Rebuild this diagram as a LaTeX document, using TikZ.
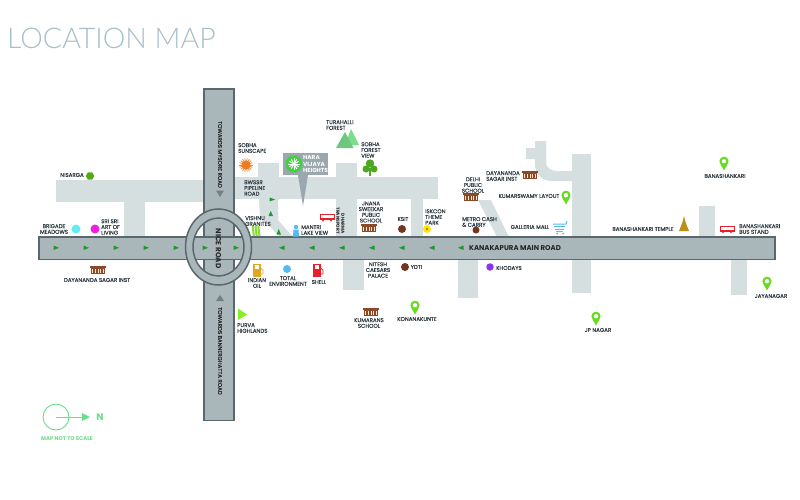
\documentclass[tikz,border=0pt]{standalone}
\usepackage{fontspec}
\setmainfont{Poppins}
\newfontfamily\titlefont{Lato Light}
\newfontfamily\lblfont[FakeBold=0.25]{Poppins}
\usetikzlibrary{shapes.geometric}
\definecolor{roadfill}{HTML}{AAB7BA}
\definecolor{roadedge}{HTML}{5A686D}
\definecolor{lightroad}{HTML}{D6DFE0}
\definecolor{inktext}{HTML}{303C44}
\definecolor{arrowgreen}{HTML}{1C9A2E}
\definecolor{pingreen}{HTML}{66DD22}
\definecolor{schoolbrown}{HTML}{8A4A28}
\definecolor{dotbrown}{HTML}{75351F}
\definecolor{gold}{HTML}{E0A820}
\definecolor{compass}{HTML}{66E088}
\definecolor{busred}{HTML}{E8202C}
\definecolor{calloutgrey}{HTML}{9AA8AE}
\definecolor{titlecol}{HTML}{A8BFC8}
\definecolor{skyblue}{HTML}{55BBF5}
\definecolor{aqua}{HTML}{66EEEE}
\definecolor{pinkdot}{HTML}{EE22DD}
\definecolor{purpledot}{HTML}{8A35EE}
\definecolor{limegreen}{HTML}{88EE22}
\definecolor{leaf}{HTML}{55AA11}
\definecolor{treegreen}{HTML}{4FA620}
\definecolor{hillgreen}{HTML}{7BDC8C}
\definecolor{sunorange}{HTML}{F47A20}
\definecolor{haragreen}{HTML}{3FD13F}
\definecolor{stripegreen}{HTML}{88DD33}
\tikzset{
  x=1pt,y=-1pt,
  lbl/.style={font=\fontsize{5.5}{5.7}\selectfont\lblfont,text=inktext,inner sep=0pt,align=center},
  lblL/.style={lbl,align=left,anchor=west},
  roadtxt/.style={inner sep=0pt,text=black!85,rotate=-90,align=center},
  lroad/.style={fill=lightroad,draw=none},
  dot/.style={circle,inner sep=0pt,minimum size=#1},
  eastmark/.style={fill=arrowgreen,draw=none},
  pics/pinicon/.style={code={
    \fill[pingreen] (0,7.5) .. controls (-1.5,3.5) and (-4.6,2) .. (-4.6,-1.8) arc[start angle=180,end angle=360,radius=4.6] .. controls (4.6,2) and (1.5,3.5) .. (0,7.5) -- cycle;
    \fill[white] (0,-1.8) circle[radius=2.2];
  }},
  pics/schoolicon/.style={code={
    \fill[schoolbrown] (-8,-4) rectangle (8,-2.4);
    \fill[schoolbrown] (-7,-2.4) rectangle (7,4);
    \foreach \i in {-5.2,-2.6,0,2.6,5.2}{\fill[white!80!orange] (\i-0.5,-1.4) rectangle (\i+0.5,2.8);}
  }},
  pics/busicon/.style={code={
    \draw[busred,line width=1pt,fill=white] (-7,-3) rectangle (7,2);
    \fill[busred] (-7,0.6) rectangle (7,2.2);
    \fill[busred] (-4,3.2) circle[radius=1];
    \fill[busred] (4,3.2) circle[radius=1];
  }},
  pics/pumpicon/.style={code={
    \fill[pic actions] (-5,-6.5) rectangle (2.5,6.5);
    \fill[white] (-3.2,-4.8) rectangle (0.8,-1);
    \draw[pic actions,fill=none,line width=0.8pt] (2.5,-2) -- (5,0) -- (5,4) -- (3,4);
  }}
}
\begin{document}
\begin{tikzpicture}
\useasboundingbox (0,0) rectangle (800,500);
\fill[white] (0,0) rectangle (800,500);
% light roads
\fill[lroad] (56,180) rectangle (204,202);
\fill[lroad] (124,202) rectangle (145,237);
\fill[lroad] (234,177) rectangle (438,199);
\fill[lroad] (258,163) rectangle (279,177);
\fill[lroad] (336,163) rectangle (357,177);
\fill[lroad] (336,199) rectangle (357,237);
\fill[lroad] (411,199) rectangle (423,237);
\fill[lroad] (259,199) -- (278,199) -- (278,220) -- (293,237) -- (280,237) -- (260,217) -- cycle;
\fill[lroad] (343,259) rectangle (364,290);
\fill[lroad] (458,259) rectangle (478,298);
\fill[lroad] (478,200) -- (491,200) -- (509,237) -- (497,237) -- cycle;
\fill[lroad] (572,154) rectangle (591,293);
\fill[lroad] (535,141) -- (546,141) -- (546,162) .. controls (546,168) and (551,171) .. (557,171) -- (573,171) -- (573,181) -- (552,181) .. controls (542,181) and (535,174) .. (535,164) -- (535,159) -- (526,159) -- (526,148) -- (535,148) -- cycle;
\fill[lroad] (699,206) rectangle (715,237);
\fill[lroad] (731,259) rectangle (747,295);
% main roads
\draw[fill=roadfill,draw=roadedge,line width=1.8pt] (204,89) rectangle (234,420.5);
\draw[fill=roadfill,draw=roadedge,line width=1.8pt] (39,237) rectangle (775,259.5);
\fill[roadfill] (205,238) rectangle (233,258.5);
% roundabout
\draw[fill=roadfill,draw=roadedge,line width=1.5pt,even odd rule] (218.5,247) ellipse[x radius=33,y radius=38] (218.5,247) ellipse[x radius=25.5,y radius=29];
% road arrows
\foreach \x in {56,86,116,146,176,205,236}{\fill[eastmark] (\x-2.5,245.5) -- (\x+3,247.8) -- (\x-2.5,250) -- cycle;}
\foreach \x in {282,312,342,372,402,432,461}{\fill[eastmark] (\x+2.5,245.5) -- (\x-3,247.8) -- (\x+2.5,250) -- cycle;}
\fill[arrowgreen] (269.5,201.5) -- (269.5,197.5) -- (275,199.5) -- cycle;
\fill[arrowgreen] (270.7,211) -- (273,216) -- (268.5,216) -- cycle;
\fill[arrowgreen] (278.7,229) -- (281,234.5) -- (276.5,234.5) -- cycle;
\fill[roadedge!85] (216,190.5) -- (224,190.5) -- (220,197) -- cycle;
\fill[roadedge!85] (216,301) -- (224,301) -- (220,295) -- cycle;
% road names
\node[roadtxt,font=\fontsize{7.3}{8}\selectfont\bfseries] (nice) at (218.5,248.5) {NICE ROAD};
\node[roadtxt,font=\fontsize{5.5}{6}\selectfont\lblfont] (mysore) at (220,154.5) {TOWARDS MYSORE ROAD};
\node[roadtxt,font=\fontsize{5.5}{6}\selectfont\lblfont] (banner) at (220,351) {TOWARDS BANNERGHATTA ROAD};
\node[inner sep=0pt,text=black!85,font=\fontsize{7}{8}\selectfont\bfseries] (kana) at (515,248.5) {KANAKAPURA MAIN ROAD};
% title
\node[inner sep=0pt,anchor=west,text=titlecol,font=\fontsize{28.5}{30}\selectfont\titlefont] (title) at (7,38) {LOCATION MAP};
% left side
\node[lbl] (nisargaL) at (72,175) {NISARGA};
\node[regular polygon,regular polygon sides=6,fill=leaf,inner sep=0pt,minimum size=8.5pt] (nisarga) at (90,176) {};
\node[lbl] (brigadeL) at (54,229) {BRIGADE\\MEADOWS};
\node[dot=9pt,fill=aqua] (brigade) at (76,229) {};
\node[dot=9pt,fill=pinkdot] (srisri) at (95,229) {};
\node[lblL] (srisriL) at (101,227) {SRI SRI\\ART OF\\LIVING};
\pic at (98,270) {schoolicon};
\node[lbl] (dsiL) at (97,280) {DAYANANDA SAGAR INST};
% top middle
\node[lblL] (sunL) at (238,148) {SOBHA\\SUNSCAPE};
\foreach \a in {0,20,...,340}{\draw[sunorange,line width=0.7pt] (246,165) -- ++(\a:6.8);}
\node[dot=9pt,fill=sunorange] (sun) at (246,165) {};
\node[lblL] (bwL) at (244,188) {BWSSR\\PIPELINE\\ROAD};
\node[lblL] (turL) at (326,125) {TURAHALLI\\FOREST};
\fill[hillgreen] (351,129) -- (359,145) -- (345,145) -- cycle;
\fill[hillgreen!90!black] (345,132) -- (353.5,148) -- (336,148) -- cycle;
\node[lblL] (sfL) at (361,150) {SOBHA\\FOREST\\VIEW};
\fill[treegreen] (368.8,168) rectangle (371.2,176);
\fill[treegreen] (370,163.5) circle[radius=4.2] (366,169) circle[radius=3.5] (374,169) circle[radius=3.5];
% callout
\fill[calloutgrey] (283,153) rectangle (328,175);
\fill[calloutgrey] (298,175) -- (308,175) -- (303,206) -- cycle;
\node[dot=17pt,fill=haragreen] (hara) at (294,164) {};
\foreach \a in {0,30,...,330}{\draw[white,line width=0.9pt] (294,164) -- ++(\a:5.6);}
\node[inner sep=0pt,anchor=west,text=white,align=left,font=\fontsize{5.8}{6.3}\selectfont\bfseries] (haraL) at (303,164) {HARA\\VIJAYA\\HEIGHTS};
% north side of main road
\node[lblL] (visL) at (245,221) {VISHNU\\GRANITES};
\foreach \x in {252.8,255.6,258.4}{\draw[stripegreen,line width=2pt] (\x,226) -- (\x+1,236);}
\fill[skyblue] (296,227) circle[radius=2.2];
\fill[skyblue] (293,236.5) -- (293.5,229.5) -- (298.5,229.5) -- (299,236.5) -- cycle;
\node[lblL] (mantriL) at (301,230) {MANTRI\\LAKE VIEW};
\pic at (327,217.5) {busicon};
\node[inner sep=0pt,rotate=-90,anchor=east,align=right,text=black!85,font=\fontsize{4.4}{5}\selectfont\bfseries] (dharmaL) at (340.5,234) {DHARMA\\TRANSPORT};
\pic at (369,228) {schoolicon};
\node[lbl] (jnanaL) at (371,212) {JNANA\\SWEEKAR\\PUBLIC\\SCHOOL};
\node[lbl] (ksitL) at (403,219) {KSIT};
\node[dot=8pt,fill=dotbrown] (ksit) at (402,229) {};
\node[lblL] (iskL) at (425,217) {ISKCON\\THEME\\PARK};
\node[dot=8pt,fill=yellow!90!orange] (isk) at (427,229) {};
\fill[red!70!black] (427,229) circle[radius=0.9];
\node[lblL] (metroL) at (462,222) {METRO CASH\\\& CARRY};
\node[dot=7pt,fill=dotbrown] (metro) at (476,230) {};
\node[lbl] (delhiL) at (473,185) {DELHI\\PUBLIC\\SCHOOL};
\pic at (471,197) {schoolicon};
\node[lblL] (dsi2L) at (486,176) {DAYANANDA\\SAGAR INST};
\pic at (530,175) {schoolicon};
\node[lbl] (kumL) at (529,196) {KUMARSWAMY LAYOUT};
\pic at (566,197) {pinicon};
\node[lbl] (galL) at (530,227) {GALLERIA MALL};
\draw[skyblue,line width=1pt,line join=round] (553,224) -- (566,224) -- (567,221);
\draw[skyblue,line width=1pt] (554,226.5) -- (565,226.5) (555,229) -- (564,229) (556,231.5) -- (563,231.5);
\fill[skyblue] (557,233.5) circle[radius=1] (563,233.5) circle[radius=1];
\node[lbl] (btL) at (643,229) {BANASHANKARI TEMPLE};
\fill[gold!85!black] (684,216) -- (685.5,222) -- (687,226) -- (689,231) -- (679,231) -- (681,226) -- (682.5,222) -- cycle;
\pic at (727,229) {busicon};
\node[lblL] (bsL) at (739,229) {BANASHANKARI\\BUS STAND};
\pic at (724,163) {pinicon};
\node[lbl] (bkL) at (725,176) {BANASHANKARI};
% south of road
\node[dot=8pt,fill=dotbrown] (ydti) at (405,267) {};
\node[lblL] (ydtiL) at (410.5,267) {YDTI};
\node[dot=7.5pt,fill=purpledot] (khod) at (490,267) {};
\node[lblL] (khodL) at (496,268) {KHODAYS};
\node[lbl] (nitL) at (378,270) {NITESH\\CAESARS\\PALACE};
\pic[gold] at (258,270) {pumpicon};
\node[lbl] (ioL) at (257,283) {INDIAN\\OIL};
\node[dot=8pt,fill=skyblue] (total) at (287,269) {};
\node[lbl] (totL) at (288,281) {TOTAL\\ENVIRONMENT};
\pic[busred] at (318,270) {pumpicon};
\node[lbl] (shellL) at (319,282) {SHELL};
\fill[limegreen] (238,308.5) -- (247,314.5) -- (238,320) -- cycle;
\node[lblL] (purL) at (237,328) {PURVA\\HIGHLANDS};
\pic at (371,312) {schoolicon};
\node[lbl] (kumaL) at (369,323) {KUMARANS\\SCHOOL};
\pic at (415,307) {pinicon};
\node[lbl] (konL) at (417,319) {KONANAKUNTE};
\pic at (596,318) {pinicon};
\node[lbl] (jpL) at (598,330) {JP NAGAR};
\pic at (767,283) {pinicon};
\node[lbl] (jayL) at (771,296) {JAYANAGAR};
% compass
\node[circle,draw=compass,line width=0.9pt,minimum size=26pt,inner sep=0pt] (comp) at (56,417) {};
\coordinate (compTip) at (90,417);
\draw[compass,line width=0.9pt] (comp.center) -- (84,417);
\fill[compass] (82,413) -- (compTip) -- (82,421) -- cycle;
\node[inner sep=0pt,text=compass,font=\fontsize{9.5}{10}\selectfont\bfseries] (north) at (100,417.5) {N};
\node[inner sep=0pt,text=compass,font=\fontsize{5.4}{6}\selectfont\bfseries] (scale) at (67,438.5) {MAP NOT TO SCALE};
\end{tikzpicture}
\end{document}
